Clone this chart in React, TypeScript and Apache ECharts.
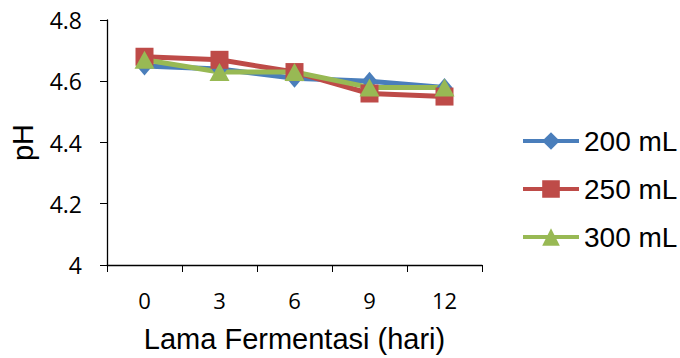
import React, { useEffect, useRef } from "react";
import * as echarts from "echarts";

const categories = ["0", "3", "6", "9", "12"];
const series200 = [4.65, 4.64, 4.61, 4.6, 4.58];
const series250 = [4.68, 4.67, 4.63, 4.56, 4.55];
const series300 = [4.67, 4.63, 4.63, 4.58, 4.58];
const seriesNames = ["200 mL", "250 mL", "300 mL"];
const yTicks = { min: 4, max: 4.8, interval: 0.2 };

export default function App() {
  const ref = useRef<HTMLDivElement>(null);
  useEffect(() => {
    if (!ref.current) return;
    const chart = echarts.init(ref.current, null, { renderer: "svg" });
    const mk = (name: string, data: number[], color: string, symbol: string, size: number | number[]) => ({
      name,
      type: "line",
      data,
      symbol,
      symbolSize: size,
      lineStyle: { width: 5, color },
      itemStyle: { color },
      z: 2,
    });
    chart.setOption({
      animation: false,
      backgroundColor: "#ffffff",
      grid: { left: 107, right: 198, top: 20, bottom: 93 },
      legend: {
        orient: "vertical",
        left: 516,
        top: 122,
        padding: [5, 0, 5, 5],
        itemWidth: 56,
        itemHeight: 22,
        itemGap: 20,
        lineStyle: { width: 4 },
        textStyle: { fontFamily: "Liberation Sans", fontSize: 28, color: "#000" },
        data: seriesNames,
      },
      xAxis: {
        type: "category",
        data: categories,
        boundaryGap: true,
        name: "Lama Fermentasi (hari)",
        nameLocation: "middle",
        nameGap: 59,
        nameTextStyle: { fontFamily: "Liberation Sans", fontSize: 29, color: "#000" },
        axisLine: { lineStyle: { color: "#000", width: 1.3 } },
        axisTick: { show: true, length: 7, lineStyle: { color: "#000" } },
        axisLabel: { fontFamily: "Open Sans", fontSize: 22, color: "#000", margin: 24 },
        splitLine: { show: false },
      },
      yAxis: {
        type: "value",
        min: yTicks.min,
        max: yTicks.max,
        interval: yTicks.interval,
        name: "pH",
        nameLocation: "middle",
        nameGap: 70,
        nameRotate: 90,
        nameTextStyle: { fontFamily: "Liberation Sans", fontSize: 29, color: "#000" },
        axisLine: { show: true, lineStyle: { color: "#000", width: 1.3 } },
        axisTick: { show: true, length: 7, lineStyle: { color: "#000" } },
        axisLabel: {
          fontFamily: "Open Sans",
          fontSize: 23,
          color: "#000",
          margin: 25,
          formatter: (v: number) => String(parseFloat(v.toFixed(1))),
        },
        splitLine: { show: false },
      },
      series: [
        mk(seriesNames[0], series200, "#4a7ebb", "diamond", [16, 19]),
        mk(seriesNames[1], series250, "#be4b48", "rect", 18),
        mk(seriesNames[2], series300, "#98b954", "triangle", [20, 18]),
      ],
    });
    return () => chart.dispose();
  }, []);
  return <div ref={ref} style={{ width: 680, height: 358, position: "absolute", left: 0, top: 0 }} />;
}
